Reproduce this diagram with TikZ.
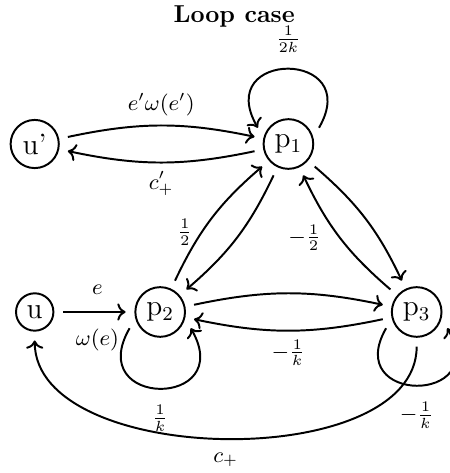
\documentclass[tikz,border=0pt]{standalone}
\usepackage{amsmath}
\usetikzlibrary{arrows.meta, positioning}

\begin{document}
\begin{tikzpicture}[
  every node/.style={font=\small},
  state/.style={circle, draw, thick, inner sep=2.4pt, outer sep=4pt, font=\large},
  link/.style={-{To}, thick},
]
\useasboundingbox (-0.498, -2.310) rectangle (5.958, 4.476);
\clip (-0.498, -2.310) rectangle (5.958, 4.476);

% Title
\node[font=\bfseries] (title) at (2.862, 4.236) {Loop case};

% States
\node[state] (u) at (0, 0) {u};
\node[state] (p2) at (1.80, 0) {p$_2$};
\node[state] (p3) at (5.48, 0) {p$_3$};
\node[state] (p1) at (3.64, 2.41) {p$_1$};
\node[state] (uprime) at (0, 2.41) {u'};

% Outer edges
\draw[link] (uprime) to[bend left=12] node[above] {$e'\omega(e')$} (p1);
\draw[link] (p1) to[bend left=12] node[below] {$c'_+$} (uprime);
\draw[link] (u) -- node[above=3.4pt, pos=0.55] {$e$} node[below=3pt, pos=0.55] {$\omega(e)$} (p2);
\draw[link] (p3) to[out=-90, in=-90, looseness=0.85] node[below=2pt] {$c_+$} (u);

% Triangle
\draw[link] (p2) to[bend left=12] node[left, pos=0.37] {$\frac{1}{2}$} (p1);
\draw[link] (p1) to[bend left=12] (p2);
\draw[link] (p1) to[bend left=12] (p3);
\draw[link] (p3) to[bend left=12] node[left=4pt] {$-\frac{1}{2}$} (p1);
\draw[link] (p2) to[bend left=12] (p3);
\draw[link] (p3) to[bend left=12] node[below] {$-\frac{1}{k}$} (p2);

% Loops
\draw[link] (p1.28) to[out=60, in=120, looseness=3.8] node[above=3pt] {$\frac{1}{2k}$} (p1.152);
\draw[link] (p2.208) to[out=240, in=300, looseness=3.9] node[below=3pt] {$\frac{1}{k}$} (p2.332);
\draw[link] (p3.208) to[out=240, in=300, looseness=3.7] node[below=3pt] {$-\frac{1}{k}$} (p3.332);

\end{tikzpicture}
\end{document}
